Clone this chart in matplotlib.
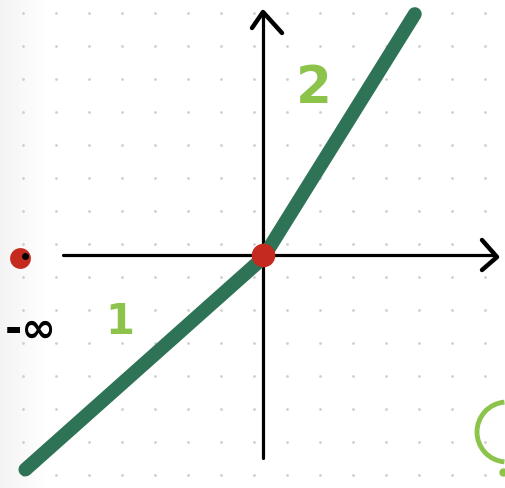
import numpy as np
import matplotlib
matplotlib.use("Agg")
import matplotlib.pyplot as plt
from matplotlib.patches import Arc

# Sketch data (units: 1 = one dot-grid step)
curve_x = [-7.2, 0.0, 4.6]
curve_y = [-6.5, -0.09, 7.3]
origin_point = (0.0, 0.0)
neg_inf_point = (-7.36, -0.09)
label_slope1 = "1"
label_slope2 = "2"
label_neg_inf = "-∞"

PX = 33.0  # pixels per unit
OX, OY = 263.0, 255.0

def to_x(px):
    return (px - OX) / PX

def to_y(py):
    return (OY - py) / PX

fig = plt.figure(figsize=(5.06, 4.88), dpi=100)
ax = fig.add_axes([0, 0, 1, 1])
ax.set_xlim(to_x(0), to_x(506))
ax.set_ylim(to_y(488), to_y(0))
ax.set_aspect("equal")
ax.axis("off")

# light gray gradient on left edge
grad = np.linspace(0.955, 1.0, 64).reshape(1, -1)
ax.imshow(np.dstack([grad, grad, grad]), extent=(to_x(0), to_x(45), to_y(488), to_y(0)),
          aspect="auto", zorder=0, interpolation="bilinear")

# dot grid
gx = np.arange(to_x(23), to_x(506), 1.0)
gy = np.arange(to_y(13), to_y(488), -1.0)
GX, GY = np.meshgrid(gx, gy)
ax.scatter(GX.ravel(), GY.ravel(), s=4, color="#cfcfcf", zorder=1, linewidths=0)

# axes
ax.plot([to_x(63), to_x(494)], [0, 0], color="black", lw=2.3, solid_capstyle="round", zorder=2)
ax.plot([0, 0], [to_y(458), to_y(14)], color="black", lw=2.3, solid_capstyle="round", zorder=2)
ax.plot([to_x(482), to_x(497), to_x(482)], [to_y(240), to_y(257), to_y(270)],
        color="black", lw=3.2, solid_capstyle="round", solid_joinstyle="round", zorder=2)
ax.plot([to_x(252), to_x(263), to_x(282)], [to_y(28), to_y(12), to_y(33)],
        color="black", lw=3.2, solid_capstyle="round", solid_joinstyle="round", zorder=2)

# curve
ax.plot(curve_x, curve_y, color="#2e7356", lw=10, solid_capstyle="round",
        solid_joinstyle="round", zorder=3)

# points
ax.plot(*origin_point, "o", color="#c42a1e", ms=17, mec="none", zorder=4)
ax.plot(*neg_inf_point, "o", color="#c42a1e", ms=15, mec="none", zorder=4)
ax.plot(neg_inf_point[0] + 0.15, neg_inf_point[1] + 0.05, "o", color="black", ms=4, zorder=5)

# labels
ax.text(to_x(314), to_y(89), label_slope2, color="#8cc34b", fontsize=37, fontweight="bold",
        ha="center", va="center", zorder=5)
ax.text(to_x(120), to_y(322), label_slope1, color="#8cc34b", fontsize=30, fontweight="bold",
        ha="center", va="center", zorder=5)
ax.text(to_x(31), to_y(330), label_neg_inf, color="black", fontsize=30, fontweight="bold",
        ha="center", va="center", zorder=5)

# partial green circle bottom-right
ax.add_patch(Arc((to_x(507), to_y(432)), 2 * 30 / PX, 2 * 30 / PX, theta1=95, theta2=265,
                 color="#8cc34b", lw=3.5, zorder=5))
ax.plot(to_x(503), to_y(472), "o", color="#8cc34b", ms=5, zorder=5)

fig.savefig("out.png", dpi=100)
